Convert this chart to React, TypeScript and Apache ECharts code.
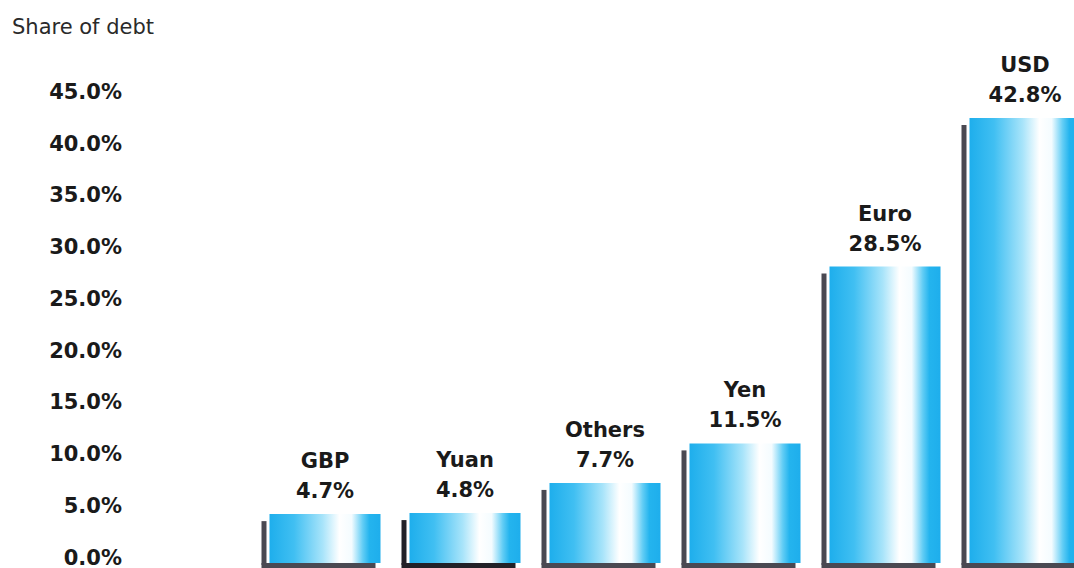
import React, { useEffect, useRef } from "react";
import * as echarts from "echarts";

const categories = ["GBP", "Yuan", "Others", "Yen", "Euro", "USD"];
const values = [4.7, 4.8, 7.7, 11.5, 28.5, 42.8];
const yTicks = [0, 5, 10, 15, 20, 25, 30, 35, 40, 45];

const FONT = "'DejaVu Sans', 'Open Sans', sans-serif";

export default function App() {
  const ref = useRef<HTMLDivElement>(null);
  useEffect(() => {
    const chart = echarts.init(ref.current!, null, { renderer: "svg" });
    const grad = new echarts.graphic.LinearGradient(0, 0, 1, 0, [
      { offset: 0, color: "#1eaeec" },
      { offset: 0.22, color: "#40bff2" },
      { offset: 0.48, color: "#a8e4fa" },
      { offset: 0.63, color: "#ffffff" },
      { offset: 0.74, color: "#f4fcff" },
      { offset: 0.84, color: "#62cdf5" },
      { offset: 0.9, color: "#24b4ee" },
      { offset: 1, color: "#1eaeec" },
    ]);
    chart.setOption({
      animation: false,
      backgroundColor: "#ffffff",
      graphic: [
        {
          type: "text",
          left: 12,
          top: 16,
          style: { text: "Share of debt", font: `400 21px ${FONT}`, fill: "#2a2a2a" },
        },
      ],
      grid: [
        { left: 255, right: 0, top: 92, bottom: 5 },
        { left: 255, right: 0, top: 95, bottom: 5 },
      ],
      xAxis: [
        { type: "value", gridIndex: 0, min: -0.5, max: 5.35, show: false },
        { type: "value", gridIndex: 1, min: -0.5, max: 5.35, show: false },
      ],
      yAxis: [
        {
          type: "value",
          gridIndex: 0,
          min: yTicks[0],
          max: yTicks[yTicks.length - 1],
          interval: yTicks[1] - yTicks[0],
          splitLine: { show: false },
          axisLine: { show: false },
          axisTick: { show: false },
          axisLabel: {
            margin: 133,
            formatter: (v: number) => v.toFixed(1) + "%",
            fontFamily: FONT,
            fontWeight: "bold",
            fontSize: 21,
            color: "#1a1a1a",
          },
        },
        {
          type: "value",
          gridIndex: 1,
          min: yTicks[0],
          max: yTicks[yTicks.length - 1],
          show: false,
          splitLine: { show: false },
        },
      ],
      series: [
        {
          type: "custom",
          xAxisIndex: 1,
          yAxisIndex: 1,
          data: values.map((v, i) => [i, v]),
          clip: false,
          renderItem: (params: any, api: any) => {
            const idx = api.value(0);
            const val = api.value(1);
            const top = api.coord([idx, val]);
            const base = api.coord([idx, 0]);
            const bw = 111;
            const x0 = top[0] - bw / 2;
            const h = base[1] - top[1];
            const side = idx === 1 ? "#222128" : "#4a4952";
            return {
              type: "group",
              children: [
                {
                  type: "rect",
                  shape: { x: x0 - 8, y: top[1] + 7, width: 5, height: h - 5 },
                  style: { fill: side },
                },
                {
                  type: "rect",
                  shape: { x: x0 - 8, y: base[1], width: bw + 3, height: 8 },
                  style: { fill: side },
                },
                {
                  type: "rect",
                  shape: { x: x0, y: top[1], width: bw, height: h },
                  style: { fill: grad },
                },
                {
                  type: "text",
                  style: {
                    text: categories[idx] + "\n" + val.toFixed(1) + "%",
                    x: top[0],
                    y: top[1] - 8,
                    textAlign: "center",
                    textVerticalAlign: "bottom",
                    font: `bold 21px ${FONT}`,
                    lineHeight: 30,
                    fill: "#1a1a1a",
                  },
                },
              ],
            };
          },
        },
      ],
    });
    return () => chart.dispose();
  }, []);
  return <div ref={ref} style={{ width: 1074, height: 568, position: "fixed", left: 0, top: 0 }} />;
}
